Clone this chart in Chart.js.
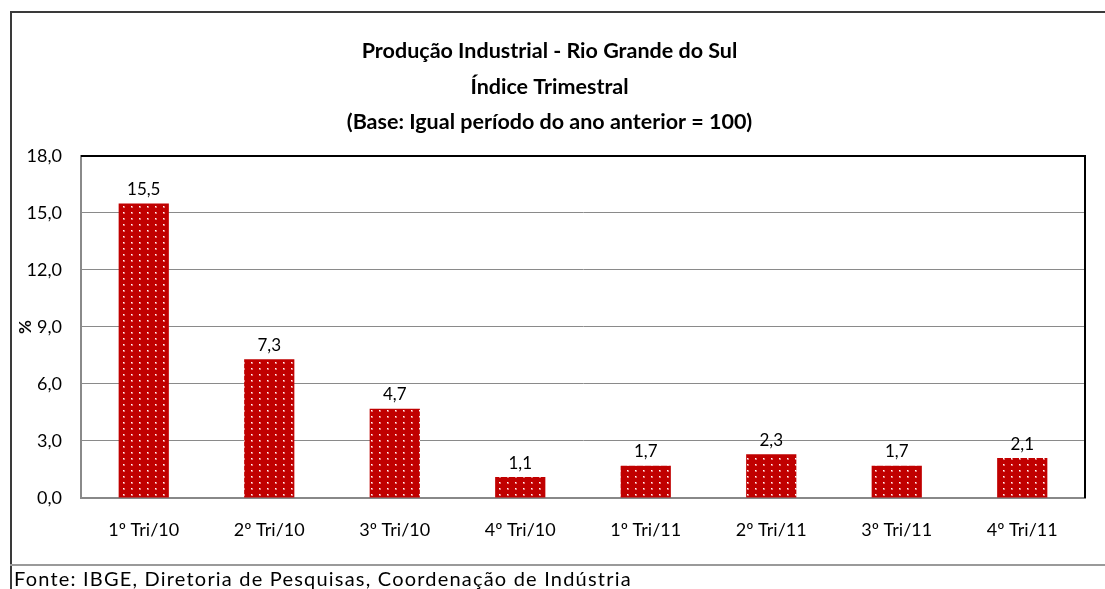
<!DOCTYPE html>
<html><head><meta charset="utf-8">
<script src="https://cdn.jsdelivr.net/npm/chart.js@4.4.0/dist/chart.umd.min.js"></script>
<style>html,body{margin:0;padding:0;background:#fff}</style>
</head><body>
<canvas id="c" width="1105" height="589" style="display:block;width:1105px;height:589px"></canvas>
<script>
const categories = ['1º Tri/10','2º Tri/10','3º Tri/10','4º Tri/10','1º Tri/11','2º Tri/11','3º Tri/11','4º Tri/11'];
const values = [15.5, 7.3, 4.7, 1.1, 1.7, 2.3, 1.7, 2.1];
const yMin = 0, yMax = 18, yStep = 3;
const titleLines = ['Produção Industrial - Rio Grande do Sul', 'Índice Trimestral', '(Base: Igual período do ano anterior = 100)'];
const yAxisTitle = '%';
const sourceNote = 'Fonte: IBGE, Diretoria de Pesquisas, Coordenação de Indústria';

const FONT = 'Lato, "Open Sans", sans-serif';
const fmt = v => Number(v).toFixed(1).replace('.', ',');

function makePattern() {
  const t = document.createElement('canvas');
  t.width = 8; t.height = 6;
  const g = t.getContext('2d');
  g.fillStyle = '#C00000';
  g.fillRect(0, 0, 8, 6);
  g.fillStyle = 'rgba(255,200,200,0.6)';
  g.fillRect(3, 2, 2, 2);
  g.fillStyle = '#ffffff';
  g.fillRect(3, 2, 1, 1);
  return document.getElementById('c').getContext('2d').createPattern(t, 'repeat');
}

const framePlugin = {
  id: 'frame',
  beforeDraw(chart) {
    const ctx = chart.ctx;
    ctx.save();
    ctx.fillStyle = '#ffffff';
    ctx.fillRect(0, 0, chart.width, chart.height);
    ctx.restore();
  },
  afterDraw(chart) {
    const ctx = chart.ctx, a = chart.chartArea;
    ctx.save();
    ctx.strokeStyle = '#3a3a3a';
    ctx.lineWidth = 2;
    ctx.beginPath();
    ctx.moveTo(11, chart.height); ctx.lineTo(11, 12); ctx.lineTo(chart.width, 12);
    ctx.stroke();
    ctx.strokeStyle = '#9a9a9a';
    ctx.beginPath();
    ctx.moveTo(10, 565); ctx.lineTo(chart.width, 565);
    ctx.stroke();
    ctx.strokeStyle = '#000000';
    ctx.lineWidth = 2;
    ctx.beginPath();
    ctx.moveTo(a.left, a.top); ctx.lineTo(a.right, a.top); ctx.lineTo(a.right, a.bottom);
    ctx.stroke();
    // source note
    ctx.fillStyle = '#000';
    ctx.font = '20px ' + FONT;
    ctx.textAlign = 'left';
    ctx.textBaseline = 'alphabetic';
    if ('letterSpacing' in ctx) ctx.letterSpacing = '1.2px';
    ctx.fillText(sourceNote, 14, 586);
    ctx.restore();
  }
};

const labelPlugin = {
  id: 'barLabels',
  afterDatasetsDraw(chart) {
    const ctx = chart.ctx;
    const meta = chart.getDatasetMeta(0);
    ctx.save();
    ctx.font = '17px ' + FONT;
    ctx.fillStyle = '#000';
    ctx.textAlign = 'center';
    ctx.textBaseline = 'middle';
    meta.data.forEach((bar, i) => {
      ctx.fillText(fmt(chart.data.datasets[0].data[i]), bar.x, bar.y - 14);
    });
    ctx.restore();
  }
};

new Chart(document.getElementById('c'), {
  type: 'bar',
  data: {
    labels: categories,
    datasets: [{
      data: values,
      backgroundColor: makePattern(),
      borderWidth: 0,
      barPercentage: 0.4,
      categoryPercentage: 1.0
    }]
  },
  options: {
    responsive: false,
    animation: false,
    devicePixelRatio: 1,
    layout: { padding: { left: 14, right: 20, top: 0, bottom: 24 } },
    plugins: {
      legend: { display: false },
      tooltip: { enabled: false },
      title: {
        display: true,
        text: titleLines,
        color: '#000',
        font: { family: FONT, size: 21.5, weight: 'bold', lineHeight: 1.65 },
        padding: { top: 33.5, bottom: 16 }
      }
    },
    scales: {
      x: {
        grid: { display: false, drawTicks: false },
        border: { color: '#888888', width: 2 },
        ticks: { color: '#000', font: { family: FONT, size: 18 }, padding: 21, maxRotation: 0 },
        afterFit(s) { s.height = 67; }
      },
      y: {
        min: yMin, max: yMax,
        grid: { color: '#8a8a8a', lineWidth: 1, drawTicks: false },
        border: { color: '#8a8a8a', width: 2 },
        ticks: { stepSize: yStep, color: '#000', font: { family: FONT, size: 18 }, padding: 19, callback: v => fmt(v) },
        title: { display: true, text: yAxisTitle, color: '#000', font: { family: FONT, size: 17, weight: 'bold', lineHeight: 1.2 }, padding: { top: 1, bottom: 0 } },
        afterFit(s) { s.width = 67; }
      }
    }
  },
  plugins: [framePlugin, labelPlugin]
});
</script>
</body></html>
